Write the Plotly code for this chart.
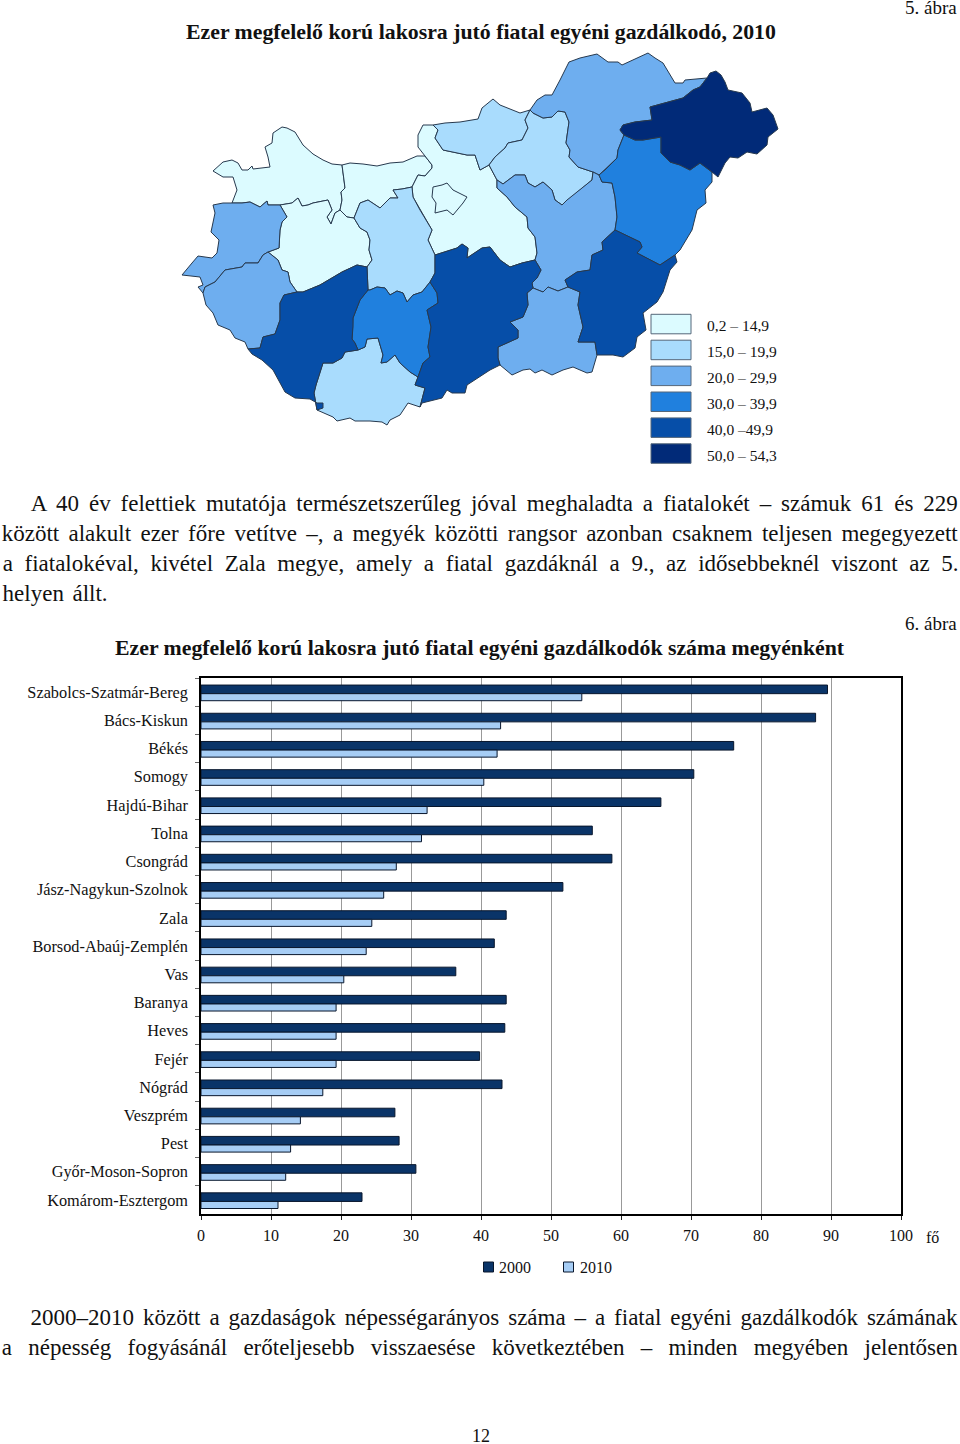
import json
import plotly.graph_objects as go

FONT = "Liberation Serif"
INK = "#111111"

# bar chart
MEGYEK = ["Szabolcs-Szatmár-Bereg", "Bács-Kiskun", "Békés", "Somogy", "Hajdú-Bihar", "Tolna", "Csongrád",
          "Jász-Nagykun-Szolnok", "Zala", "Borsod-Abaúj-Zemplén", "Vas", "Baranya", "Heves", "Fejér", "Nógrád",
          "Veszprém", "Pest", "Győr-Moson-Sopron", "Komárom-Esztergom"]
VALUES_2000 = [89.5, 87.8, 76.1, 70.4, 65.7, 55.9, 58.7, 51.7, 43.6, 41.9, 36.4, 43.6, 43.4, 39.8, 43.0, 27.7, 28.3,
               30.7, 23.0]
VALUES_2010 = [54.4, 42.8, 42.3, 40.4, 32.3, 31.5, 27.9, 26.1, 24.4, 23.6, 20.4, 19.3, 19.3, 19.3, 17.4, 14.2, 12.8,
               12.1, 11.0]
X_TICKS = [0, 10, 20, 30, 40, 50, 60, 70, 80, 90, 100]

# map, outlines
GYOR = [(213, 171), (223, 162), (232, 160), (238, 163), (242, 170), (248, 170), (252, 166), (253, 169), (270, 167),
        (268, 157), (265, 147), (272, 143), (273, 133), (282, 127), (287, 128), (295, 132), (303, 145), (313, 154),
        (323, 160), (332, 164), (342, 165), (344, 180), (345, 188), (341, 192), (342, 200), (340, 210), (335, 213),
        (331, 224), (327, 217), (332, 210), (328, 200), (313, 203), (308, 205), (302, 206), (298, 198), (292, 203),
        (280, 205), (268, 205), (267, 201), (260, 207), (250, 202), (242, 203), (232, 203), (237, 190), (233, 177),
        (223, 177)]
KOMAROM = [(342, 165), (350, 163), (363, 164), (377, 166), (390, 163), (403, 162), (417, 156), (425, 156), (432, 165),
           (432, 168), (425, 176), (418, 175), (412, 187), (402, 189), (393, 190), (398, 198), (390, 198), (380, 208),
           (368, 200), (360, 203), (354, 218), (347, 217), (340, 210), (342, 200), (341, 192), (345, 188), (344, 180)]
VESZPREM = [(340, 210), (347, 217), (354, 218), (360, 228), (367, 232), (370, 240), (369, 250), (372, 260), (367, 267),
            (357, 265), (342, 272), (320, 285), (303, 292), (297, 292), (290, 282), (288, 272), (282, 270), (278, 260),
            (268, 252), (279, 248), (280, 230), (282, 222), (287, 217), (280, 205), (292, 203), (298, 198), (302, 206),
            (308, 205), (313, 203), (328, 200), (332, 210), (327, 217), (331, 224), (335, 213)]
FEJER = [(354, 218), (360, 203), (368, 200), (380, 208), (390, 198), (398, 198), (393, 190), (402, 189), (412, 187),
         (413, 197), (420, 210), (428, 223), (432, 230), (428, 240), (435, 255), (435, 273), (430, 282), (422, 292),
         (413, 295), (407, 302), (403, 293), (397, 291), (390, 295), (385, 288), (377, 287), (370, 290), (368, 290),
         (367, 267), (372, 260), (369, 250), (370, 240), (367, 232), (360, 228)]
VAS = [(232, 203), (242, 203), (250, 202), (260, 207), (267, 201), (268, 205), (280, 205), (287, 217), (282, 222),
       (280, 230), (279, 248), (268, 252), (263, 255), (258, 263), (245, 263), (242, 267), (225, 270), (215, 282),
       (205, 287), (203, 293), (198, 287), (203, 285), (200, 277), (182, 275), (192, 263), (198, 256), (212, 258),
       (217, 253), (219, 240), (211, 232), (215, 213), (213, 205), (223, 203)]
ZALA = [(203, 293), (205, 287), (215, 282), (225, 270), (242, 267), (245, 263), (258, 263), (263, 255), (268, 252),
        (278, 260), (282, 270), (288, 272), (290, 282), (297, 292), (284, 295), (280, 303), (280, 320), (275, 334),
        (263, 337), (260, 348), (248, 349), (245, 342), (235, 338), (230, 330), (218, 325), (213, 313), (206, 305)]
SOMOGY = [(248, 349), (260, 348), (263, 337), (275, 334), (280, 320), (280, 303), (284, 295), (297, 292), (303, 292),
          (320, 285), (342, 272), (357, 265), (367, 267), (368, 290), (360, 300), (353, 318), (353, 327), (352, 339),
          (355, 343), (358, 350), (345, 352), (342, 358), (333, 363), (323, 363), (316, 385), (314, 393), (317, 410),
          (323, 408), (323, 403), (317, 403), (310, 399), (295, 398), (285, 392), (277, 378), (273, 370), (262, 360),
          (252, 354)]
TOLNA = [(368, 290), (370, 290), (377, 287), (385, 288), (390, 295), (397, 291), (403, 293), (407, 302), (413, 295),
         (422, 292), (430, 282), (437, 293), (438, 303), (427, 310), (431, 327), (428, 347), (430, 357), (423, 363),
         (418, 377), (410, 372), (400, 363), (395, 355), (387, 362), (381, 363), (383, 355), (378, 338), (367, 339),
         (365, 347), (358, 350), (355, 343), (352, 339), (353, 327), (353, 318), (360, 300)]
BARANYA = [(317, 410), (314, 393), (316, 385), (323, 363), (333, 363), (342, 358), (345, 352), (358, 350), (365, 347),
           (367, 339), (378, 338), (383, 355), (381, 363), (387, 362), (395, 355), (400, 363), (410, 372), (418, 377),
           (415, 385), (425, 388), (420, 407), (408, 403), (400, 415), (390, 420), (387, 425), (382, 422), (370, 421),
           (355, 421), (350, 418), (337, 421), (333, 417)]
BACS = [(435, 255), (457, 248), (462, 244), (468, 248), (467, 258), (482, 248), (490, 247), (500, 260), (510, 267),
        (522, 263), (535, 260), (541, 270), (537, 278), (532, 283), (533, 288), (527, 293), (528, 305), (523, 317),
        (510, 322), (518, 330), (518, 338), (498, 347), (498, 358), (500, 365), (490, 370), (478, 378), (467, 385),
        (465, 393), (452, 393), (447, 390), (442, 398), (422, 403), (420, 407), (425, 388), (415, 385), (418, 377),
        (423, 363), (430, 357), (428, 347), (431, 327), (427, 310), (438, 303), (437, 293), (430, 282), (435, 273)]
PEST = [(425, 156), (418, 147), (418, 135), (423, 125), (433, 125), (438, 130), (435, 138), (443, 150), (467, 155),
        (475, 155), (480, 170), (489, 165), (497, 180), (497, 188), (507, 197), (515, 207), (527, 217), (528, 228),
        (535, 237), (537, 253), (535, 260), (522, 263), (510, 267), (500, 260), (490, 247), (482, 248), (467, 258),
        (468, 248), (462, 244), (457, 248), (435, 255), (428, 240), (432, 230), (428, 223), (420, 210), (413, 197),
        (412, 187), (418, 175), (425, 176), (432, 168), (432, 165)]
BUDAPEST = [(433, 187), (442, 185), (447, 183), (453, 190), (467, 197), (463, 203), (453, 215), (447, 210), (435, 213),
            (436, 203), (432, 197)]
NOGRAD = [(433, 125), (445, 123), (460, 122), (478, 119), (482, 108), (493, 99), (500, 105), (508, 108), (520, 113),
          (530, 110), (525, 120), (528, 128), (522, 140), (508, 143), (505, 148), (495, 157), (489, 165), (480, 170),
          (475, 155), (467, 155), (443, 150), (435, 138), (438, 130)]
HEVES = [(530, 110), (533, 113), (543, 118), (552, 117), (558, 111), (565, 112), (569, 122), (566, 143), (570, 150),
         (569, 157), (578, 167), (593, 172), (592, 180), (580, 190), (567, 200), (562, 205), (555, 200), (552, 190),
         (543, 182), (535, 187), (528, 183), (525, 175), (515, 175), (503, 184), (497, 180), (489, 165), (495, 157),
         (505, 148), (508, 143), (522, 140), (528, 128), (525, 120)]
BORSOD = [(530, 110), (537, 100), (545, 95), (552, 95), (560, 80), (569, 62), (580, 58), (597, 54), (608, 62),
          (618, 62), (622, 65), (637, 58), (648, 53), (655, 58), (663, 63), (675, 83), (683, 83), (685, 80), (707, 78),
          (700, 87), (693, 90), (683, 98), (667, 102), (650, 107), (652, 120), (635, 122), (623, 125), (620, 130),
          (624, 135), (618, 150), (617, 158), (605, 170), (599, 175), (593, 172), (578, 167), (569, 157), (570, 150),
          (566, 143), (569, 122), (565, 112), (558, 111), (552, 117), (543, 118), (533, 113)]
SZABOLCS = [(707, 78), (710, 73), (716, 71), (721, 75), (725, 82), (728, 90), (742, 93), (750, 103), (752, 112),
            (767, 108), (773, 115), (776, 123), (778, 129), (768, 137), (767, 145), (757, 154), (747, 152), (738, 158),
            (730, 157), (725, 163), (718, 177), (712, 172), (700, 163), (690, 170), (680, 165), (670, 162), (661, 153),
            (661, 137), (643, 140), (635, 140), (624, 135), (620, 130), (623, 125), (635, 122), (652, 120), (650, 107),
            (667, 102), (683, 98), (693, 90), (700, 87)]
HAJDU = [(624, 135), (635, 140), (643, 140), (661, 137), (661, 153), (670, 162), (680, 165), (690, 170), (700, 163),
         (712, 172), (712, 182), (705, 190), (706, 203), (697, 210), (692, 230), (685, 242), (680, 250), (675, 255),
         (660, 265), (637, 253), (642, 247), (640, 242), (620, 233), (615, 230), (617, 217), (615, 197), (612, 183),
         (602, 182), (599, 175), (605, 170), (617, 158), (618, 150)]
SZOLNOK = [(497, 180), (503, 184), (515, 175), (525, 175), (528, 183), (535, 187), (543, 182), (552, 190), (555, 200),
           (562, 205), (567, 200), (580, 190), (592, 180), (593, 172), (599, 175), (602, 182), (612, 183), (615, 197),
           (617, 217), (615, 230), (602, 242), (603, 250), (592, 255), (590, 270), (577, 272), (565, 280), (568, 287),
           (558, 291), (548, 287), (543, 292), (533, 288), (532, 283), (537, 278), (541, 270), (535, 260), (537, 253),
           (535, 237), (528, 228), (527, 217), (515, 207), (507, 197), (497, 188)]
CSONGRAD = [(533, 288), (543, 292), (548, 287), (558, 291), (568, 287), (580, 292), (578, 305), (583, 327), (578, 342),
            (595, 342), (597, 355), (592, 372), (587, 373), (573, 367), (563, 370), (552, 375), (542, 370), (535, 373),
            (530, 369), (523, 370), (512, 375), (500, 365), (498, 358), (498, 347), (518, 338), (518, 330), (510, 322),
            (523, 317), (528, 305), (527, 293)]
BEKES = [(615, 230), (602, 242), (603, 250), (592, 255), (590, 270), (577, 272), (565, 280), (568, 287), (580, 292),
         (578, 305), (583, 327), (578, 342), (595, 342), (597, 355), (613, 355), (623, 357), (635, 348), (637, 337),
         (646, 330), (643, 313), (657, 302), (663, 292), (670, 270), (677, 262), (675, 255), (660, 265), (637, 253),
         (642, 247), (640, 242), (620, 233)]

BAND_COLORS = ["#dcfbff", "#a9dcfd", "#6eaeef", "#2080de", "#064ea8", "#012a78"]
BAND_LABELS = ["0,2 – 14,9", "15,0 – 19,9", "20,0 – 29,9", "30,0 – 39,9", "40,0 –49,9", "50,0 – 54,3"]
COUNTIES = [(GYOR, 0), (KOMAROM, 0), (VESZPREM, 0), (PEST, 0), (BUDAPEST, 0), (FEJER, 1), (NOGRAD, 1), (HEVES, 1),
            (BARANYA, 1), (VAS, 2), (ZALA, 2), (BORSOD, 2), (SZOLNOK, 2), (CSONGRAD, 2), (TOLNA, 3), (HAJDU, 3),
            (SOMOGY, 4), (BACS, 4), (BEKES, 4), (SZABOLCS, 5)]

TITLE_MAP = "Ezer megfelelő korú lakosra jutó fiatal egyéni gazdálkodó, 2010"
TITLE_BARS = "Ezer megfelelő korú lakosra jutó fiatal egyéni gazdálkodók száma megyénként"
# text line, left end, right end, middle height
BODY = [("A 40 év felettiek mutatója természetszerűleg jóval meghaladta a fiatalokét – számuk 61 és 229", 31, 958, 503),
        ("között alakult ezer főre vetítve –, a megyék közötti rangsor azonban csaknem teljesen megegyezett", 2, 958, 533),
        ("a fiatalokéval, kivétel Zala megye, amely a fiatal gazdáknál a 9., az idősebbeknél viszont az 5.", 2, 958, 563),
        ("helyen állt.", 2, 107, 593),
        ("2000–2010 között a gazdaságok népességarányos száma – a fiatal egyéni gazdálkodók számának", 31, 958, 1317),
        ("a népesség fogyásánál erőteljesebb visszaesése következtében – minden megyében jelentősen", 2, 958, 1347)]

fig = go.Figure()

fig.add_trace(go.Bar(name="2000", y=MEGYEK, x=VALUES_2000, orientation="h", offset=-0.25, width=0.305,
                     marker=dict(color="#0a3468", line=dict(color="#08162c", width=1))))
fig.add_trace(go.Bar(name="2010", y=MEGYEK, x=VALUES_2010, orientation="h", offset=0.055, width=0.25,
                     marker=dict(color="#a6cdf5", line=dict(color="#08162c", width=1))))

for outline, band in COUNTIES:
    xs = [p[0] for p in outline] + [outline[0][0]]
    ys = [p[1] for p in outline] + [outline[0][1]]
    fig.add_trace(go.Scatter(x=xs, y=ys, xaxis="x2", yaxis="y2", mode="lines", fill="toself",
                             fillcolor=BAND_COLORS[band], line=dict(color="#27394e", width=1), hoverinfo="skip"))


def label(text, x, y, size, anchor="left", bold=False):
    fig.add_annotation(text=text, x=x, y=y, xref="x2", yref="y2", xanchor=anchor, yanchor="middle", showarrow=False,
                       borderpad=0, font=dict(family=FONT, size=size, color=INK,
                                              weight="bold" if bold else "normal"))


def swatch(x0, x1, y0, y1, color, edge):
    fig.add_shape(type="rect", xref="x2", yref="y2", x0=x0, x1=x1, y0=y0, y1=y1, fillcolor=color,
                  line=dict(color=edge, width=1))


label(TITLE_MAP, 480.5, 32, 21.8, "center", True)
label(TITLE_BARS, 480, 648, 21.8, "center", True)
label("5. ábra", 958, 7, 19, "right")
label("6. ábra", 958, 623, 19, "right")
label("12", 481, 1436, 18, "center")
label("fő", 925, 1237, 16)

for i, band in enumerate(BAND_LABELS):
    top = 314.3 + i * 25.9
    swatch(651, 691, top, top + 19.5, BAND_COLORS[i], "#55677a")
    label(band, 706, top + 11.5, 15.5)

swatch(483.5, 493.5, 1262, 1272, "#0a3468", "#08162c")
swatch(563.5, 573.5, 1262, 1272, "#a6cdf5", "#08162c")
label("2000", 498, 1267, 16)
label("2010", 579, 1267, 16)

widths = {}
for text, left, right, y in BODY:
    label(text, (left + right) / 2, y, 23, "center")
    widths[text] = right - left

fig.update_layout(
    width=960, height=1444, margin=dict(l=0, r=0, t=0, b=0, autoexpand=False), paper_bgcolor="white",
    plot_bgcolor="rgba(0,0,0,0)", showlegend=False, barmode="overlay", hovermode=False,
    xaxis=dict(domain=[201 / 960, 901 / 960], range=[0, 100], tickvals=X_TICKS, ticks="outside", ticklen=4,
               tickcolor="#222222", showgrid=True, gridcolor="#999999", gridwidth=1.3, zeroline=False,
               showline=True, linecolor="#000000", linewidth=1.5, mirror=True, ticklabelstandoff=2,
               tickfont=dict(family=FONT, size=16, color=INK), anchor="y"),
    yaxis=dict(domain=[1 - 1214 / 1444, 1 - 678 / 1444], type="category", categoryorder="array", categoryarray=MEGYEK,
               range=[18.5, -0.5], tickson="boundaries", ticks="outside", ticklen=4, tickcolor="#666666",
               showgrid=False, showline=True, linecolor="#000000", linewidth=1.5, mirror=True, ticklabelstandoff=8,
               tickfont=dict(family=FONT, size=16.3, color=INK), anchor="x"),
    xaxis2=dict(domain=[0, 1], range=[0, 960], visible=False, anchor="y2"),
    yaxis2=dict(domain=[0, 1], range=[1444, 0], visible=False, anchor="x2"),
)

# paragraph lines are justified in the original, plotly cannot do that on its own
POST = """
document.body.style.margin = '0';
var widths = %s;
document.querySelectorAll('text.annotation-text').forEach(function (el) {
    var target = widths[el.textContent];
    if (!target) { return; }
    var gaps = el.textContent.split(' ').length - 1;
    el.style.wordSpacing = ((target - el.getComputedTextLength()) / gaps) + 'px';
});
""" % json.dumps(widths, ensure_ascii=False)

fig.write_html("out.html", post_script=POST, default_width="960px", default_height="1444px",
               config={"displayModeBar": False, "responsive": False})
